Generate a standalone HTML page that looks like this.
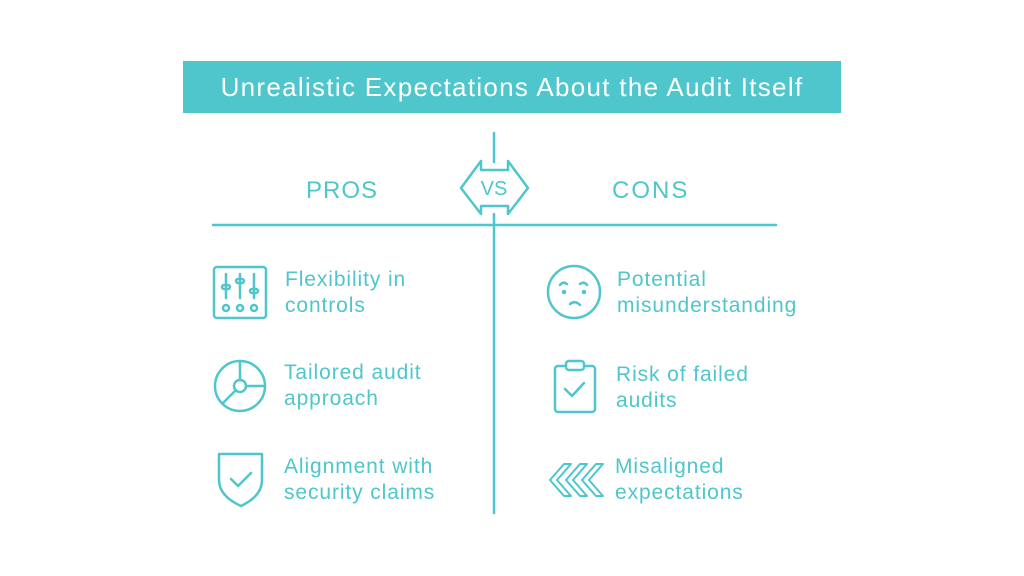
<!DOCTYPE html>
<html><head><meta charset="utf-8"><style>
body{margin:0;width:1024px;height:576px;background:#fff;position:relative;overflow:hidden;font-family:"Liberation Sans",sans-serif;color:#4ec6cc}
.t{position:absolute;font-size:21px;line-height:26px;white-space:nowrap;letter-spacing:0.9px}
.h{position:absolute;font-size:24px;line-height:30px;letter-spacing:1px}
</style></head><body>
<div style="position:absolute;left:183px;top:61px;width:658px;height:52px;background:#4ec6cc;color:#fff;font-size:26px;line-height:52px;text-align:center;letter-spacing:1.3px;white-space:nowrap">Unrealistic Expectations About the Audit Itself</div>
<svg width="1024" height="576" style="position:absolute;left:0;top:0" fill="none" stroke="#4ec6cc" stroke-width="2.5" stroke-linecap="round" stroke-linejoin="round">
<line x1="494" y1="133" x2="494" y2="162"/>
<line x1="494" y1="214" x2="494" y2="513"/>
<line x1="213" y1="225" x2="776" y2="225"/>
<path d="M461 188 L481 161 L481 170 L508 170 L508 161 L528 188 L508 214 L508 206 L481 206 L481 214 Z"/>
<rect x="214" y="267" width="52" height="51" rx="3"/>
<line x1="226" y1="274" x2="226" y2="298"/><line x1="240" y1="274" x2="240" y2="298"/><line x1="254" y1="274" x2="254" y2="298"/>
<rect x="222" y="285" width="8" height="4" rx="2"/><rect x="236" y="279" width="8" height="4" rx="2"/><rect x="250" y="289" width="8" height="4" rx="2"/>
<circle cx="226" cy="308" r="3"/><circle cx="240" cy="308" r="3"/><circle cx="254" cy="308" r="3"/>
<circle cx="240" cy="386" r="25"/><circle cx="240" cy="386" r="6"/>
<line x1="240" y1="361" x2="240" y2="380"/><line x1="246" y1="386" x2="265" y2="386"/><line x1="236" y1="390" x2="223" y2="403"/>
<path d="M219 454 L262 454 L262 480 Q262 496 241 506 Q219 496 219 480 Z"/>
<path d="M231 479 L238 486 L251 473"/>
<circle cx="574" cy="292" r="26"/>
<path d="M560 285 Q563 281 567 284"/><path d="M580 284 Q584 281 587 285"/>
<circle cx="564" cy="292" r="1" fill="#4ec6cc"/><circle cx="584" cy="292" r="1" fill="#4ec6cc"/>
<path d="M570 304 Q575 300 580 305"/>
<rect x="555" y="366" width="40" height="46" rx="3"/>
<rect x="566" y="361" width="18" height="9" rx="3" fill="#fff"/>
<path d="M565 389 L572 396 L584 383"/>
<path d="M564 464 L550 480 L564 496 L571 496 L557 480 L571 464 Z" stroke-width="2"/>
<path d="M580 464 L566 480 L580 496 L587 496 L573 480 L587 464 Z" stroke-width="2"/>
<path d="M596 464 L582 480 L596 496 L603 496 L589 480 L603 464 Z" stroke-width="2"/>
</svg>
<div class="h" style="left:306px;top:176px">PROS</div>
<div class="h" style="left:612px;top:176px;letter-spacing:2px">CONS</div>
<div style="position:absolute;left:474px;top:176px;width:40px;text-align:center;font-size:20px;line-height:26px">VS</div>
<div class="t" style="left:285px;top:267px">Flexibility in<br>controls</div>
<div class="t" style="left:284px;top:360px">Tailored audit<br>approach</div>
<div class="t" style="left:284px;top:454px">Alignment with<br>security claims</div>
<div class="t" style="left:617px;top:267px">Potential<br>misunderstanding</div>
<div class="t" style="left:616px;top:362px">Risk of failed<br>audits</div>
<div class="t" style="left:615px;top:454px">Misaligned<br>expectations</div>
</body></html>
